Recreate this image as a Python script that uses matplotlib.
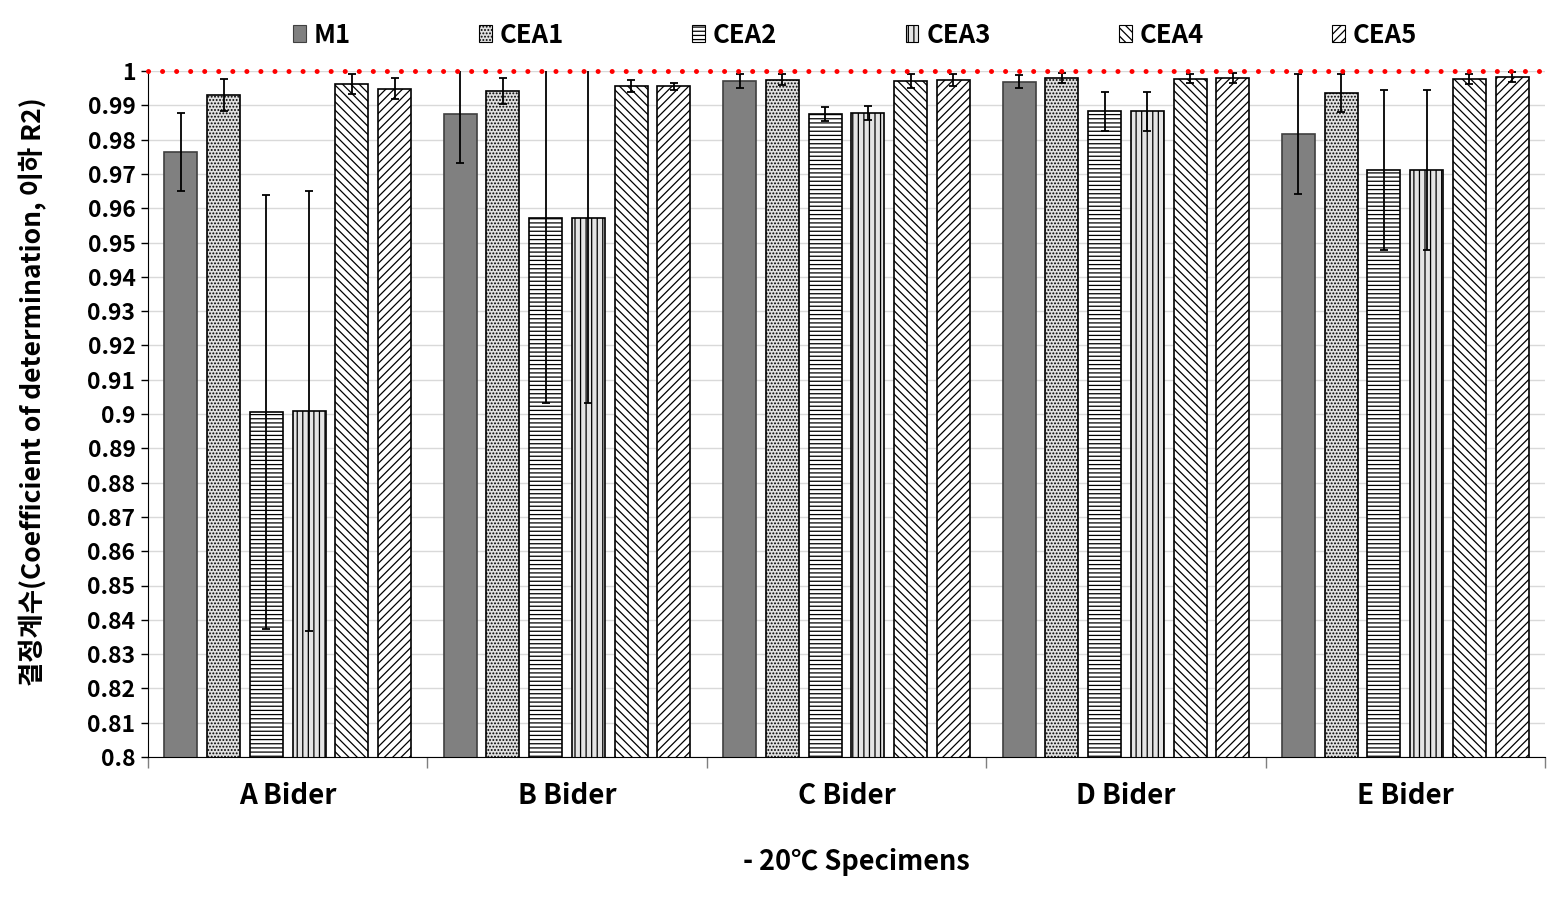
import numpy as np
import matplotlib
matplotlib.use('Agg')
import matplotlib.pyplot as plt
from matplotlib.patches import Patch

plt.rcParams['font.family'] = ['Noto Sans CJK KR', 'DejaVu Sans']
plt.rcParams['font.weight'] = 'bold'
plt.rcParams['hatch.linewidth'] = 0.9

groups = ['A Bider', 'B Bider', 'C Bider', 'D Bider', 'E Bider']
series = ['M1', 'CEA1', 'CEA2', 'CEA3', 'CEA4', 'CEA5']

# mean R2 per binder
m1 = [0.9765, 0.9875, 0.9971, 0.9968, 0.9816]
cea1 = [0.9930, 0.9942, 0.9974, 0.9980, 0.9936]
cea2 = [0.9006, 0.9571, 0.9875, 0.9883, 0.9711]
cea3 = [0.9009, 0.9571, 0.9877, 0.9883, 0.9711]
cea4 = [0.9962, 0.9956, 0.9970, 0.9977, 0.9977]
cea5 = [0.9948, 0.9956, 0.9974, 0.9980, 0.9983]

# error bar half-lengths
m1_err = [0.0114, 0.0143, 0.0020, 0.0019, 0.0175]
cea1_err = [0.0048, 0.0037, 0.0016, 0.0015, 0.0055]
cea2_err = [0.0633, 0.0540, 0.0020, 0.0057, 0.0233]
cea3_err = [0.0642, 0.0540, 0.0020, 0.0057, 0.0233]
cea4_err = [0.0030, 0.0017, 0.0020, 0.0013, 0.0015]
cea5_err = [0.0031, 0.0010, 0.0018, 0.0015, 0.0015]

vals = [m1, cea1, cea2, cea3, cea4, cea5]
errs = [m1_err, cea1_err, cea2_err, cea3_err, cea4_err, cea5_err]

styles = [
    dict(facecolor='#808080', edgecolor='#404040', hatch=None),
    dict(facecolor='#e0e0e0', edgecolor='black', hatch='.....'),
    dict(facecolor='white', edgecolor='black', hatch='----'),
    dict(facecolor='#e4e4e4', edgecolor='black', hatch='|||'),
    dict(facecolor='white', edgecolor='black', hatch='\\\\\\\\'),
    dict(facecolor='white', edgecolor='black', hatch='////'),
]

fig = plt.figure(figsize=(15.63, 8.98), dpi=100)
ax = fig.add_axes([148 / 1563, 1 - 757 / 898, (1545 - 148) / 1563, (757 - 71) / 898])

x = np.arange(len(groups))
width = 0.118
step = 0.153
handles = []
for i, name in enumerate(series):
    pos = x + (i - 2.5) * step
    st = styles[i]
    ax.bar(pos, vals[i], width, bottom=0, color=st['facecolor'], edgecolor=st['edgecolor'],
           hatch=st['hatch'], linewidth=1.2, zorder=2)
    ax.errorbar(pos, vals[i], yerr=errs[i], fmt='none', ecolor='black', elinewidth=1.3,
                capsize=3, capthick=1.3, zorder=3)
    handles.append(Patch(facecolor=st['facecolor'], edgecolor=st['edgecolor'],
                         hatch=st['hatch'], linewidth=0.8, label=name))

# reference line at R2 = 1
ax.axhline(1.0, color='red', lw=3.6, ls=(0, (0.01, 2.8)), dash_capstyle='round',
           clip_on=False, zorder=5)

ax.set_xlim(-0.5, len(groups) - 0.5)
ax.set_ylim(0.8, 1.0)
yt = np.round(np.arange(0.8, 1.0001, 0.01), 2)
ax.set_yticks(yt)
ax.set_yticklabels([f'{v:g}' for v in yt], fontsize=16.5, fontweight='bold')
ax.set_xticks(x)
ax.set_xticklabels(groups, fontsize=20, fontweight='bold')
ax.set_xticks(np.arange(-0.5, len(groups), 1), minor=True)
ax.tick_params(axis='x', which='major', length=0, pad=18)
ax.tick_params(axis='x', which='minor', length=8, width=1, color='#7f7f7f')
ax.tick_params(axis='y', length=5, width=1, pad=4)

ax.yaxis.grid(True, color='#d9d9d9', lw=1)
ax.set_axisbelow(True)
ax.spines['top'].set_visible(False)
ax.spines['right'].set_visible(False)
ax.spines['left'].set_color('black')
ax.spines['bottom'].set_color('black')

fig.text(0.021, 0.5635, '결정계수(Coefficient of determination, 이하 R2)', rotation=90,
         ha='center', va='center', fontsize=19, fontweight='bold')
fig.text(0.548, 0.04, '- 20℃ Specimens', ha='center', va='center', fontsize=19.5, fontweight='bold')

fig.legend(handles=handles, loc='center', bbox_to_anchor=(0.547, 0.961), ncol=6, frameon=False,
           prop={'size': 18.5, 'weight': 'bold'}, handlelength=0.5, handleheight=0.6,
           handletextpad=0.3, columnspacing=5.0)

fig.savefig('out.png', dpi=100)
